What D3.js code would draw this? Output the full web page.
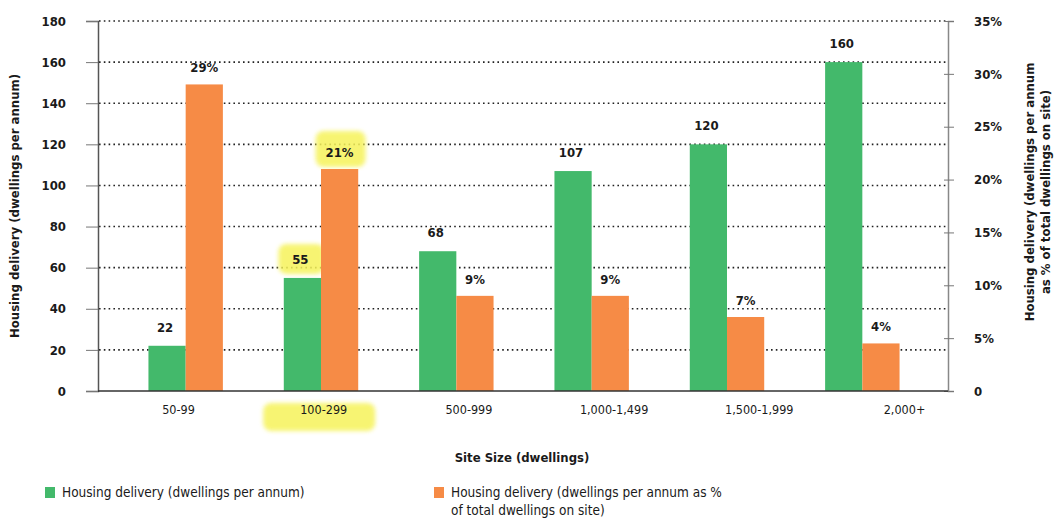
<!DOCTYPE html>
<html>
<head>
<script src="https://cdn.jsdelivr.net/npm/d3@7"></script>
<style>
  body { margin: 0; background: #fff; }
  svg text { font-family: "Liberation Sans Narrow", "DejaVu Sans Condensed", Arial, sans-serif; fill: #1a1a1a; }
  .tick text { font-weight: bold; font-size: 13px; }
  .title { font-weight: bold; font-size: 13px; }
  .val { font-weight: bold; font-size: 13px; }
  .leg { font-size: 13.5px; }
</style>
</head>
<body>
<div id="container"></div>
<script>
// data
var categories = ["50-99", "100-299", "500-999", "1,000-1,499", "1,500-1,999", "2,000+"];
var dwellings = [22, 55, 68, 107, 120, 160];
var dwellingLabels = ["22", "55", "68", "107", "120", "160"];
var pctValues = [29, 21, 9, 9, 7, 4.5];
var pctLabels = ["29%", "21%", "9%", "9%", "7%", "4%"];
var leftTicks = [0, 20, 40, 60, 80, 100, 120, 140, 160, 180];
var rightTicks = [0, 5, 10, 15, 20, 25, 30, 35];
var highlighted = ["100-299"];

var width = 1060, height = 524;
var green = "#43b96b", orange = "#f68b46", marker = "#f6f35a";

var svg = d3.select("#container").append("svg")
    .attr("width", width).attr("height", height);

var defs = svg.append("defs");
defs.append("filter").attr("id", "soft")
    .append("feGaussianBlur").attr("stdDeviation", 2);

var y = d3.scaleLinear().domain([0, 180]).range([391, 21]);
var yPct = d3.scaleLinear().domain([0, 35]).range([391, 21]);
var x = d3.scaleBand().domain(categories).range([118, 930])
    .paddingInner(0.45).paddingOuter(0.225);
var xSub = d3.scaleBand().domain(["num", "pct"]).range([0, x.bandwidth()]);
var xLabel = d3.scalePoint().domain(categories).range([178, 904]);

// dotted grid
svg.append("g").selectAll("line")
    .data(leftTicks.filter(function(d) { return d > 0; }))
    .enter().append("line")
    .attr("x1", 99).attr("x2", 947)
    .attr("y1", function(d) { return y(d); })
    .attr("y2", function(d) { return y(d); })
    .attr("stroke", "#222").attr("stroke-width", 1.6)
    .attr("stroke-dasharray", "1.6,3.2");

// highlighter marks behind the highlighted labels
var hl = svg.append("g").attr("opacity", 0.85).attr("filter", "url(#soft)");
categories.forEach(function(c, i) {
    if (highlighted.indexOf(c) < 0) return;
    var cx1 = x(c) + xSub("num") + xSub.bandwidth() / 2;
    var cx2 = x(c) + xSub("pct") + xSub.bandwidth() / 2;
    hl.append("rect").attr("x", cx1 - 24).attr("y", y(dwellings[i]) - 34)
        .attr("width", 46).attr("height", 30).attr("rx", 8).attr("fill", marker);
    hl.append("rect").attr("x", cx2 - 24).attr("y", yPct(pctValues[i]) - 38)
        .attr("width", 50).attr("height", 36).attr("rx", 8).attr("fill", marker);
    hl.append("rect").attr("x", xLabel(c) - 60).attr("y", 403)
        .attr("width", 112).attr("height", 28).attr("rx", 8).attr("fill", marker);
});

var groups = svg.append("g").selectAll("g")
    .data(categories).enter().append("g")
    .attr("transform", function(d) { return "translate(" + x(d) + ",0)"; });

groups.append("rect")
    .attr("x", xSub("num")).attr("width", xSub.bandwidth())
    .attr("y", function(d, i) { return y(dwellings[i]); })
    .attr("height", function(d, i) { return y(0) - y(dwellings[i]); })
    .attr("fill", green);

groups.append("rect")
    .attr("x", xSub("pct")).attr("width", xSub.bandwidth())
    .attr("y", function(d, i) { return yPct(pctValues[i]); })
    .attr("height", function(d, i) { return yPct(0) - yPct(pctValues[i]); })
    .attr("fill", orange);

groups.append("text").attr("class", "val")
    .attr("x", xSub("num") + xSub.bandwidth() / 2 - 2)
    .attr("y", function(d, i) { return y(dwellings[i]) - 14; })
    .attr("text-anchor", "middle")
    .text(function(d, i) { return dwellingLabels[i]; });

groups.append("text").attr("class", "val")
    .attr("x", xSub("pct") + xSub.bandwidth() / 2)
    .attr("y", function(d, i) { return yPct(pctValues[i]) - 12; })
    .attr("text-anchor", "middle")
    .text(function(d, i) { return pctLabels[i]; });

// axes
var left = svg.append("g").attr("transform", "translate(98,0)")
    .call(d3.axisLeft(y).tickValues(leftTicks).tickSize(12).tickPadding(20));
var right = svg.append("g").attr("transform", "translate(948,0)")
    .call(d3.axisRight(yPct).tickValues(rightTicks).tickSize(6).tickPadding(20)
        .tickFormat(function(d) { return d === 0 ? "0" : d + "%"; }));
[left, right].forEach(function(a) {
    a.select(".domain").attr("stroke", "#555").attr("stroke-width", 1.5);
    a.selectAll(".tick line").attr("stroke", "#777");
});
right.selectAll(".tick line").attr("x1", -4);
right.select(".domain").attr("stroke", "#888");

var bottom = svg.append("g").attr("transform", "translate(0,391)")
    .call(d3.axisBottom(xLabel).tickSize(0).tickPadding(14));
bottom.select(".domain").attr("d", "M98,0H948").attr("stroke", "#333").attr("stroke-width", 1.5);
bottom.selectAll(".tick text").style("font-weight", "normal").style("font-size", "12.5px");

// titles
svg.append("text").attr("class", "title")
    .attr("transform", "translate(19,206) rotate(-90)")
    .attr("text-anchor", "middle")
    .text("Housing delivery (dwellings per annum)");
var rt = svg.append("text").attr("class", "title")
    .attr("transform", "translate(1034,192) rotate(-90)")
    .attr("text-anchor", "middle");
rt.append("tspan").attr("x", 0).attr("dy", 0).text("Housing delivery (dwellings per annum");
rt.append("tspan").attr("x", 0).attr("dy", 16).text("as % of total dwellings on site)");

svg.append("text").attr("class", "title")
    .attr("x", 522).attr("y", 462).attr("text-anchor", "middle")
    .text("Site Size (dwellings)");

// legend
var legend = [
    {color: green, lines: ["Housing delivery (dwellings per annum)"], x: 45},
    {color: orange, lines: ["Housing delivery (dwellings per annum as %", "of total dwellings on site)"], x: 434}
];
legend.forEach(function(l) {
    svg.append("rect").attr("x", l.x).attr("y", 487).attr("width", 10).attr("height", 11).attr("fill", l.color);
    var t = svg.append("text").attr("class", "leg").attr("x", l.x + 17).attr("y", 497);
    l.lines.forEach(function(s, i) {
        t.append("tspan").attr("x", l.x + 17).attr("dy", i ? 18 : 0).text(s);
    });
});
</script>
</body>
</html>
